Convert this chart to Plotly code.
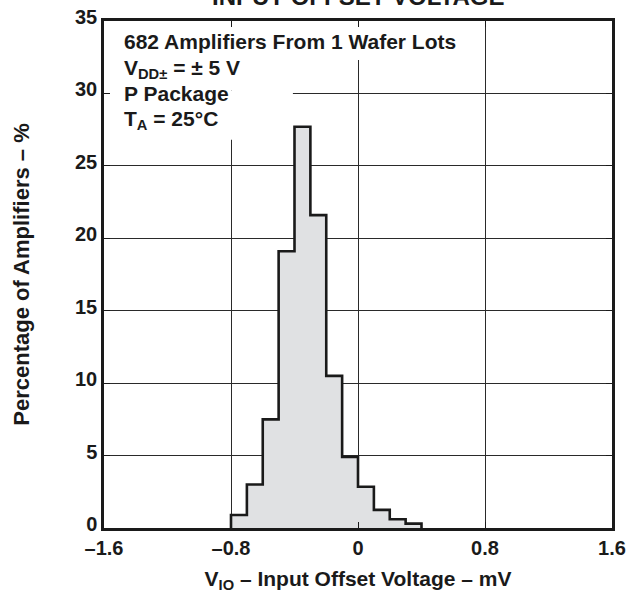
import plotly.graph_objects as go

# Data: histogram of input offset voltage (bins of 0.1 mV)
bin_left_edges = [-0.8, -0.7, -0.6, -0.5, -0.4, -0.3, -0.2, -0.1, 0.0, 0.1, 0.2, 0.3]
bin_width = 0.1
percentages = [0.9, 3.0, 7.5, 19.1, 27.7, 21.6, 10.5, 4.9, 2.85, 1.25, 0.6, 0.3]

x_tick_vals = [-1.6, -0.8, 0, 0.8, 1.6]
x_tick_text = ["\u20131.6", "\u20130.8", "0", "0.8", "1.6"]
y_tick_vals = [0, 5, 10, 15, 20, 25, 30, 35]

FONT = "Liberation Sans, Arial, Helvetica, sans-serif"
INK = "#1a1a1a"

# step outline built from the bins
xs = [bin_left_edges[0]] + bin_left_edges + [bin_left_edges[-1] + bin_width]
ys = [0] + percentages + [0]

fig = go.Figure()
fig.add_trace(go.Scatter(
    x=xs, y=ys, mode="lines", line=dict(shape="hv", color=INK, width=2.6),
    fill="tozeroy", fillcolor="#e0e1e3", hoverinfo="skip", showlegend=False,
))

# white panels behind the text block (hiding grid lines there)
panels = [
    dict(x0=-1.6, x1=0.78, y0=32.3, y1=35),
    dict(x0=-1.6, x1=-0.02, y0=30.2, y1=32.3),
    dict(x0=-1.6, x1=-0.41, y0=26.8, y1=30.2),
]
for p in panels:
    fig.add_shape(type="rect", xref="x", yref="y", layer="between",
                  fillcolor="white", line=dict(width=0), **p)

lines = [
    ("682 Amplifiers From 1 Wafer Lots", 0.959),
    ("V<sub>DD\u00b1</sub> = \u00b1 5 V", 0.906),
    ("P Package", 0.857),
    ("T<sub>A</sub> = 25\u00b0C", 0.804),
]
for txt, yy in lines:
    fig.add_annotation(text="<b>" + txt + "</b>", xref="paper", yref="paper",
                       x=0.036, y=yy, xanchor="left", yanchor="middle",
                       showarrow=False, font=dict(family=FONT, size=21, color=INK))

# clipped title at top
fig.add_annotation(text="<b>INPUT OFFSET VOLTAGE</b>", xref="paper", yref="paper",
                   x=0.5, y=1.0, yshift=9, xanchor="center", yanchor="bottom",
                   showarrow=False, font=dict(family=FONT, size=24, color=INK))

fig.update_layout(
    width=641, height=599,
    margin=dict(l=104, r=29, t=21, b=71, autoexpand=False),
    paper_bgcolor="white", plot_bgcolor="white",
    font=dict(family=FONT, size=20, color=INK),
    showlegend=False,
)
fig.update_xaxes(
    range=[-1.6, 1.6], tickvals=x_tick_vals, ticktext=x_tick_text,
    showgrid=True, gridcolor="#2a2a2a", gridwidth=1,
    showline=True, linecolor=INK, linewidth=2.5, mirror="ticks",
    ticks="inside", ticklen=6, tickcolor=INK, zeroline=False, automargin=False,
    tickfont=dict(family=FONT, size=20, color=INK, weight="bold"),
    title=dict(text="<b>V<sub>IO</sub> \u2013 Input Offset Voltage \u2013 mV</b>",
               font=dict(family=FONT, size=21, color=INK), standoff=14),
)
fig.update_yaxes(
    range=[0, 35], tickvals=y_tick_vals,
    showgrid=True, gridcolor="#2a2a2a", gridwidth=1,
    showline=True, linecolor=INK, linewidth=2.5, mirror="ticks",
    ticks="inside", ticklen=6, tickcolor=INK, ticklabelshift=-4,
    zeroline=False, automargin=False,
    tickfont=dict(family=FONT, size=20, color=INK, weight="bold"),
    title=dict(text="<b>Percentage of Amplifiers \u2013 %</b>",
               font=dict(family=FONT, size=22, color=INK), standoff=40),
)

fig.write_html("out.html", config={"displayModeBar": False},
               post_script="document.body.style.margin='0';")
